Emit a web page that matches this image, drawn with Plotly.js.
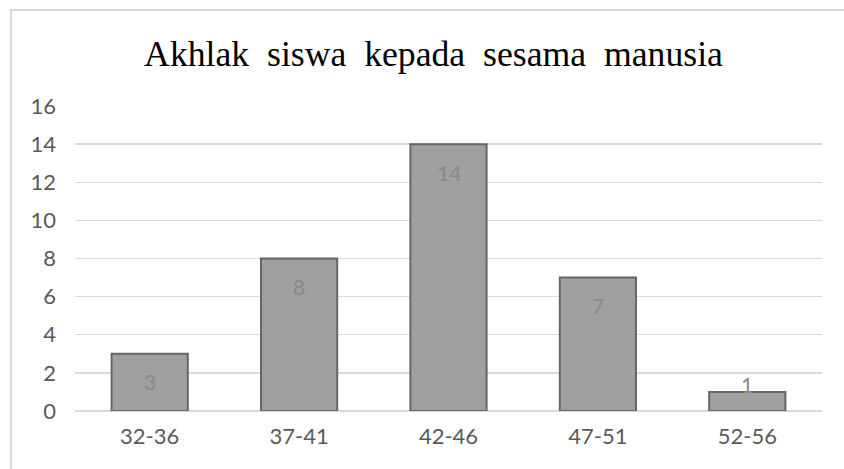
<!DOCTYPE html>
<html>
<head>
<meta charset="utf-8">
<script src="https://cdn.plot.ly/plotly-3.0.1.min.js"></script>
<style>
  html, body { margin: 0; padding: 0; background: #ffffff; overflow: hidden; }
  #frame { position: absolute; left: 10px; top: 9px; width: 1000px; height: 1000px;
           border-left: 2px solid #d9d9d9; border-top: 2px solid #d9d9d9; }
  #chart { position: absolute; left: 0; top: 0; width: 844px; height: 469px; }
</style>
</head>
<body>
<div id="frame"></div>
<div id="chart"></div>
<script>
const chartTitle = "Akhlak&nbsp; siswa&nbsp; kepada&nbsp; sesama&nbsp; manusia";
const categories = ["32-36", "37-41", "42-46", "47-51", "52-56"];
const counts = [3, 8, 14, 7, 1];
const yTicks = [0, 2, 4, 6, 8, 10, 12, 14, 16];

const labelFont = { family: "Lato, 'Open Sans', sans-serif", size: 21, color: "#888888" };

const trace = {
  type: "bar",
  x: categories,
  y: counts,
  marker: { color: "#a0a0a0", line: { color: "#666666", width: 2 } },
  hoverinfo: "x+y"
};

// data labels near the inside end of each bar (Excel style)
const annotations = categories.map((c, i) => ({
  x: c,
  y: Math.max(counts[i] - 1.47, 1.38),
  xref: "x", yref: "y",
  text: String(counts[i]),
  showarrow: false,
  font: labelFont,
  yanchor: "middle"
}));

const layout = {
  width: 844, height: 469,
  margin: { l: 75, r: 22, t: 106, b: 58 },
  paper_bgcolor: "rgba(0,0,0,0)",
  plot_bgcolor: "rgba(0,0,0,0)",
  bargap: 0.49,
  showlegend: false,
  title: {
    text: chartTitle,
    font: { family: "'Liberation Serif', 'Times New Roman', serif", size: 35.7, color: "#000000" },
    xref: "container", x: 433.5 / 844, xanchor: "center",
    yref: "container", y: 1 - 54 / 469, yanchor: "middle"
  },
  xaxis: {
    type: "category",
    showgrid: false,
    showline: false,
    zeroline: false,
    ticks: "",
    ticklabelstandoff: 10,
    tickfont: { family: "Lato, 'Open Sans', sans-serif", size: 22, color: "#595959" }
  },
  yaxis: {
    range: [0, 16],
    tickvals: yTicks,
    ticktext: yTicks.map(String),
    showgrid: true,
    gridcolor: "#d9d9d9",
    gridwidth: 1.3,
    zeroline: true,
    zerolinecolor: "#d9d9d9",
    zerolinewidth: 1.3,
    showline: false,
    ticks: "",
    ticklabelstandoff: 18,
    tickfont: { family: "Lato, 'Open Sans', sans-serif", size: 22, color: "#595959" }
  },
  annotations: annotations
};

Plotly.newPlot("chart", [trace], layout, { displayModeBar: false, staticPlot: true });
</script>
</body>
</html>
